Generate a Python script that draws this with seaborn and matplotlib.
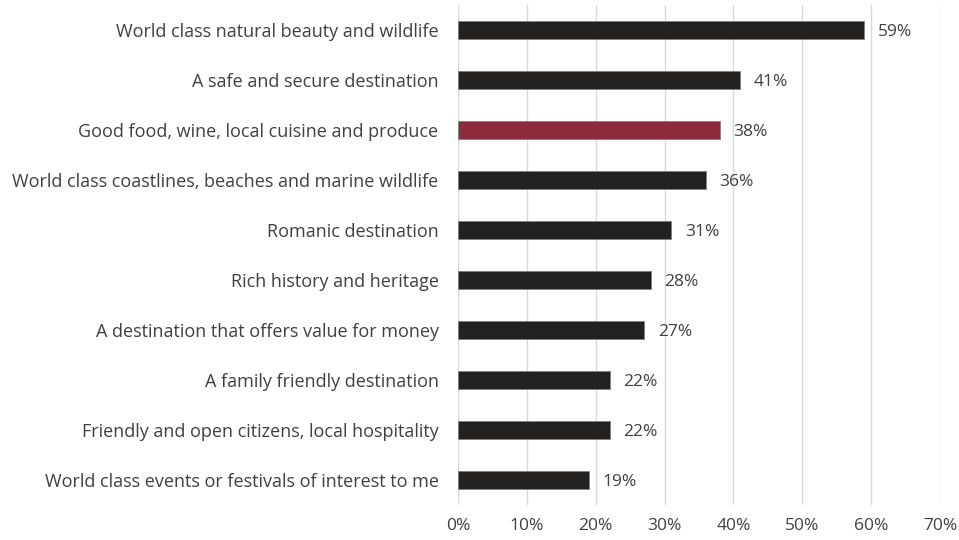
import matplotlib
matplotlib.use("Agg")
import matplotlib.pyplot as plt
import seaborn as sns
import pandas as pd

categories = [
    "World class natural beauty and wildlife",
    "A safe and secure destination",
    "Good food, wine, local cuisine and produce",
    "World class coastlines, beaches and marine wildlife",
    "Romanic destination",
    "Rich history and heritage",
    "A destination that offers value for money",
    "A family friendly destination",
    "Friendly and open citizens, local hospitality",
    "World class events or festivals of interest to me",
]
values = [59, 41, 38, 36, 31, 28, 27, 22, 22, 19]
highlight = "Good food, wine, local cuisine and produce"
xticks = [0, 10, 20, 30, 40, 50, 60, 70]

sns.set_theme(style="white")
plt.rcParams['font.family'] = ['Open Sans', 'DejaVu Sans']

df = pd.DataFrame({"cat": categories, "val": values})
palette = {c: ("#9b1b30" if c == highlight else "#231f20") for c in categories}

fig = plt.figure(figsize=(9.59, 5.4), dpi=100)
ax = fig.add_axes([0.4776, 0.0648, 0.5026, 0.9259])
sns.barplot(data=df, x="val", y="cat", hue="cat", palette=palette, legend=False,
            width=0.36, ax=ax, order=categories, edgecolor="#7f7f7f", linewidth=0.6)

ax.set_xlim(0, 70)
ax.set_ylim(len(categories) - 0.5, -0.5)
ax.set_xticks(xticks)
ax.set_xticklabels([f"{t}%" for t in xticks])
ax.xaxis.grid(True, color="#d9d9d9", linewidth=1)
ax.set_axisbelow(True)
for s in ax.spines.values():
    s.set_visible(False)
ax.set_xlabel("")
ax.set_ylabel("")
ax.tick_params(axis="both", length=0, labelsize=12.5, colors="#404040")
ax.tick_params(axis="y", labelsize=13, pad=14)
ax.tick_params(axis="x", pad=9)

for i, v in enumerate(values):
    ax.text(v + 2, i + 0.04, f"{v}%", va="center", ha="left", fontsize=12.5, color="#404040")

fig.savefig("out.png", dpi=100)
